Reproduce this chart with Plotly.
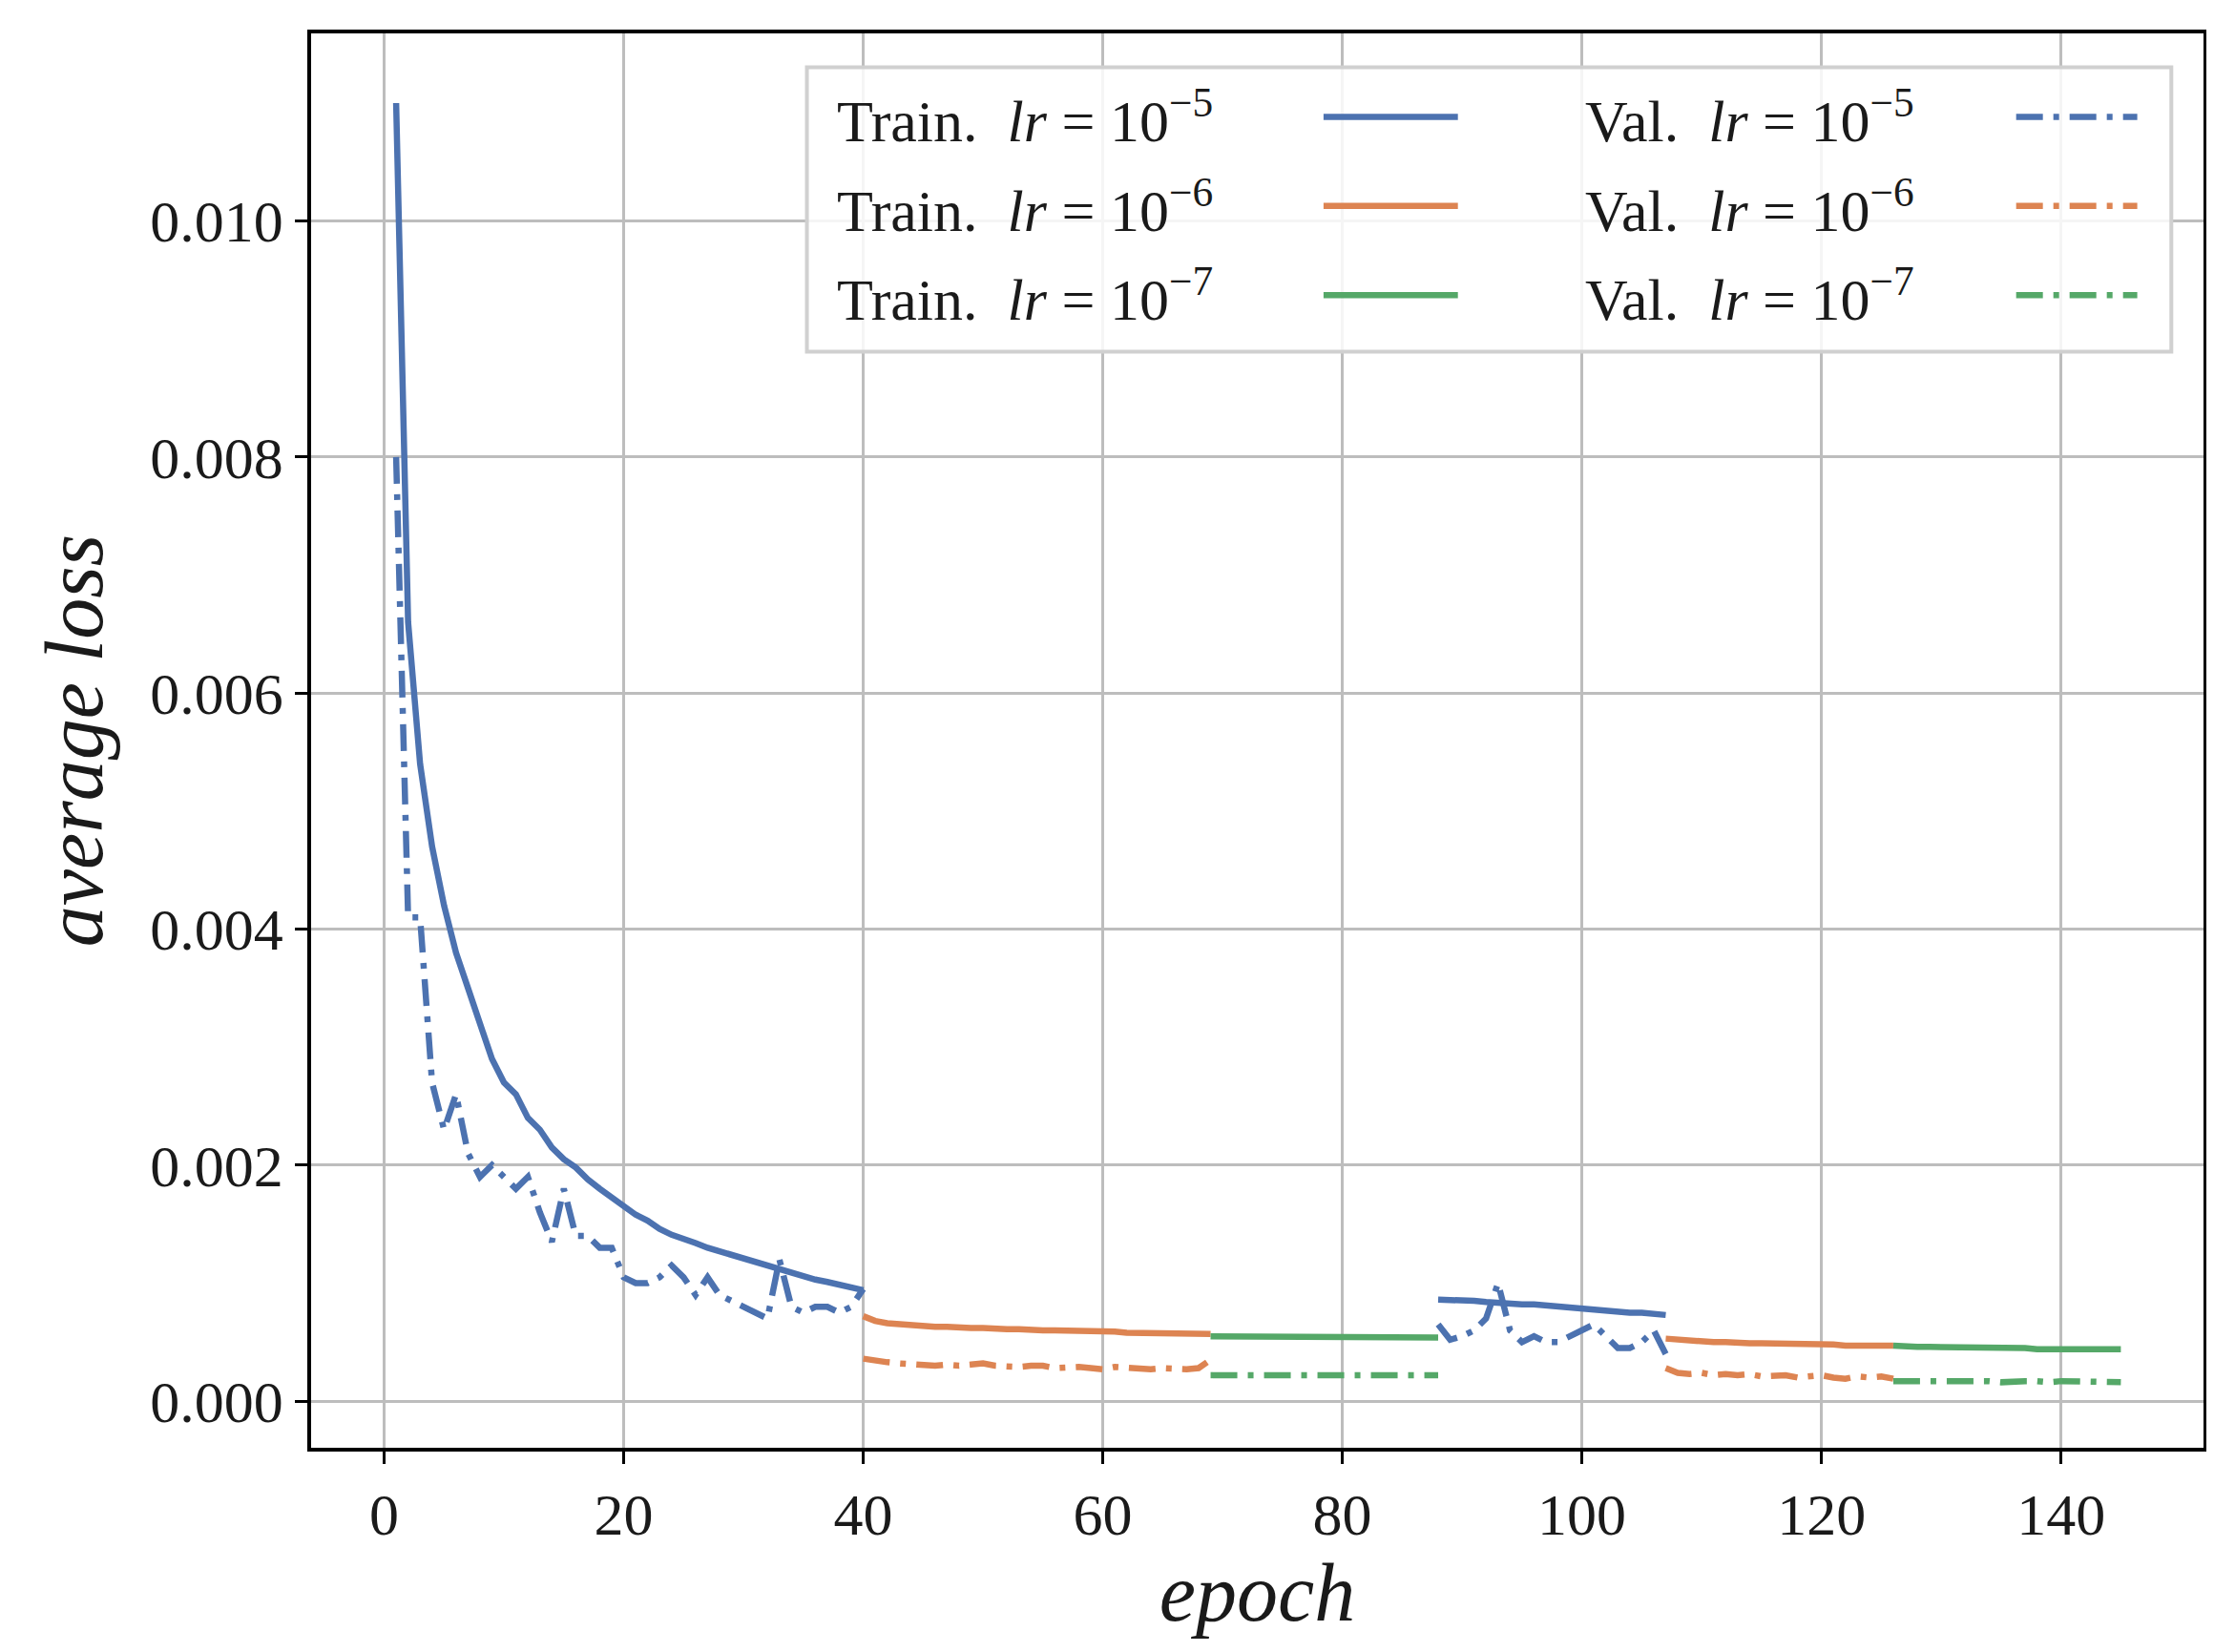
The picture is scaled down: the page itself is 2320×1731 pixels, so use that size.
import plotly.graph_objects as go

# epochs per training phase
ep_a = list(range(1, 41))
ep_b = list(range(40, 70))
ep_c = list(range(69, 89))
ep_d = list(range(88, 108))
ep_e = list(range(107, 127))
ep_f = list(range(126, 146))

train_a = [0.0110, 0.0066, 0.0054, 0.0047, 0.0042, 0.0038, 0.0035, 0.0032, 0.0029, 0.0027,
           0.0026, 0.0024, 0.0023, 0.00215, 0.00205, 0.00198, 0.00188, 0.00180, 0.00173, 0.00165,
           0.00158, 0.00153, 0.00146, 0.00141, 0.00138, 0.00134, 0.00130, 0.00127, 0.00124, 0.00120,
           0.00117, 0.00115, 0.00112, 0.00109, 0.00106, 0.00103, 0.00101, 0.00099, 0.00097, 0.00094]
val_a = [0.0080, 0.0041, 0.0041, 0.0027, 0.0023, 0.0026, 0.0021, 0.0019, 0.0020, 0.0019,
         0.0018, 0.0019, 0.0016, 0.00135, 0.0018, 0.0014, 0.0014, 0.0013, 0.0013, 0.00105,
         0.0010, 0.0010, 0.00105, 0.00115, 0.00105, 0.0009, 0.00105, 0.0009, 0.00085, 0.0008,
         0.00075, 0.0007, 0.0012, 0.0008, 0.00075, 0.0008, 0.0008, 0.00075, 0.0008, 0.00095]
train_b = [0.00072, 0.00068, 0.00066, 0.00065, 0.00064, 0.00064, 0.00063, 0.00063, 0.00062, 0.00062,
           0.00062, 0.00061, 0.00061, 0.00061, 0.00060, 0.00060, 0.00060, 0.00060, 0.00059, 0.00059,
           0.00059, 0.00059, 0.00058, 0.00058, 0.00058, 0.00058, 0.00058, 0.00057, 0.00057, 0.00057]
val_b = [0.00036, 0.00034, 0.00033, 0.00032, 0.00031, 0.00031, 0.00030, 0.00031, 0.00030, 0.00031,
         0.00032, 0.00030, 0.00029, 0.00029, 0.00030, 0.00030, 0.00028, 0.00029, 0.00029, 0.00028,
         0.00027, 0.00029, 0.00028, 0.00028, 0.00027, 0.00028, 0.00027, 0.00027, 0.00028, 0.00035]
train_c = [0.00055, 0.00055, 0.00055, 0.00055, 0.00055, 0.00055, 0.00055, 0.00054, 0.00054, 0.00054,
           0.00054, 0.00054, 0.00054, 0.00054, 0.00054, 0.00054, 0.00054, 0.00054, 0.00054, 0.00054]
val_c = [0.00022, 0.00022, 0.00022, 0.00022, 0.00022, 0.00023, 0.00022, 0.00022, 0.00022, 0.00022,
         0.00023, 0.00022, 0.00022, 0.00022, 0.00022, 0.00022, 0.00022, 0.00022, 0.00022, 0.00022]
train_d = [0.00086, 0.00086, 0.00086, 0.00085, 0.00084, 0.00083, 0.00083, 0.00082, 0.00082, 0.00081,
           0.00080, 0.00079, 0.00078, 0.00077, 0.00077, 0.00076, 0.00075, 0.00075, 0.00074, 0.00073]
val_d = [0.00065, 0.00052, 0.00055, 0.00060, 0.00070, 0.00100, 0.00060, 0.00050, 0.00055, 0.00050,
         0.00050, 0.00055, 0.00060, 0.00065, 0.00055, 0.00045, 0.00045, 0.00050, 0.00060, 0.00040]
train_e = [0.00053, 0.00052, 0.00051, 0.00050, 0.00050, 0.00050, 0.00049, 0.00049, 0.00049, 0.00049,
           0.00048, 0.00048, 0.00048, 0.00048, 0.00048, 0.00047, 0.00047, 0.00047, 0.00047, 0.00047]
val_e = [0.00028, 0.00024, 0.00023, 0.00024, 0.00022, 0.00023, 0.00022, 0.00023, 0.00021, 0.00022,
         0.00022, 0.00020, 0.00021, 0.00022, 0.00020, 0.00019, 0.00021, 0.00020, 0.00021, 0.00019]
train_f = [0.00047, 0.00046, 0.00046, 0.00046, 0.00046, 0.00045, 0.00045, 0.00045, 0.00045, 0.00045,
           0.00045, 0.00045, 0.00044, 0.00044, 0.00044, 0.00044, 0.00044, 0.00044, 0.00044, 0.00044]
val_f = [0.00017, 0.00017, 0.00017, 0.00017, 0.00017, 0.00018, 0.00017, 0.00017, 0.00017, 0.00016,
         0.00017, 0.00017, 0.00017, 0.00016, 0.00017, 0.00017, 0.00016, 0.00016, 0.00016, 0.00016]

x_ticks = [0, 20, 40, 60, 80, 100, 120, 140]
y_ticks = [0.000, 0.002, 0.004, 0.006, 0.008, 0.010]

BLUE, ORANGE, GREEN = "#4C72B0", "#DD8452", "#55A868"
FONT = "Liberation Serif"
LW = 6.5
DASHDOT = "28px,11px,6px,11px"

segments = [
    (ep_a, train_a, val_a, BLUE),
    (ep_b, train_b, val_b, ORANGE),
    (ep_c, train_c, val_c, GREEN),
    (ep_d, train_d, val_d, BLUE),
    (ep_e, train_e, val_e, ORANGE),
    (ep_f, train_f, val_f, GREEN),
]

fig = go.Figure()
for ep, tr, va, col in segments:
    fig.add_trace(go.Scatter(x=ep, y=tr, mode="lines", line=dict(color=col, width=LW), showlegend=False))
    fig.add_trace(go.Scatter(x=ep, y=va, mode="lines", line=dict(color=col, width=LW, dash=DASHDOT),
                             showlegend=False))

# hand-built legend (text left, sample right, like matplotlib markerfirst=False)
shapes = [dict(type="rect", xref="paper", yref="paper", x0=0.262, x1=0.983, y0=0.775, y1=0.976,
               line=dict(color="#d0d0d0", width=4), fillcolor="rgba(255,255,255,0.85)", layer="above")]
annotations = []
rows = [(0.941, "5", BLUE), (0.878, "6", ORANGE), (0.815, "7", GREEN)]
for y, e, col in rows:
    for tx, lx0, lx1, lbl, dash in [(0.277, 0.535, 0.606, "Train.", "solid"),
                                     (0.672, 0.901, 0.965, "Val.", DASHDOT)]:
        annotations.append(dict(xref="paper", yref="paper", x=tx, y=y, xanchor="left", yanchor="middle",
                                showarrow=False, font=dict(family=FONT, size=62, color="#1a1a1a"),
                                text=f"{lbl}  <i>lr</i> = 10<sup>−{e}</sup>"))
        shapes.append(dict(type="line", xref="paper", yref="paper", x0=lx0, x1=lx1, y0=y, y1=y,
                           line=dict(color=col, width=LW, dash=dash), layer="above"))

axis_common = dict(showline=True, linecolor="black", linewidth=3.5, mirror=True, ticks="outside",
                   ticklen=13, tickwidth=3, tickcolor="black", showgrid=True, gridcolor="#bdbdbd",
                   gridwidth=2.5, zeroline=False, tickfont=dict(family=FONT, size=62, color="#1a1a1a"))

fig.update_layout(
    width=2320, height=1731,
    margin=dict(l=318, r=19, t=27, b=222),
    plot_bgcolor="white", paper_bgcolor="white",
    shapes=shapes, annotations=annotations,
    xaxis=dict(axis_common, range=[-6.1, 151.9], tickvals=x_ticks,
               title=dict(text="<i>epoch</i>", font=dict(family=FONT, size=86, color="#1a1a1a"), standoff=18)),
    yaxis=dict(axis_common, range=[-0.000395, 0.01159], tickvals=y_ticks, tickformat=".3f",
               title=dict(text="<i>average loss</i>", font=dict(family=FONT, size=86, color="#1a1a1a"),
                          standoff=22)),
)

fig.write_html("out.html")
